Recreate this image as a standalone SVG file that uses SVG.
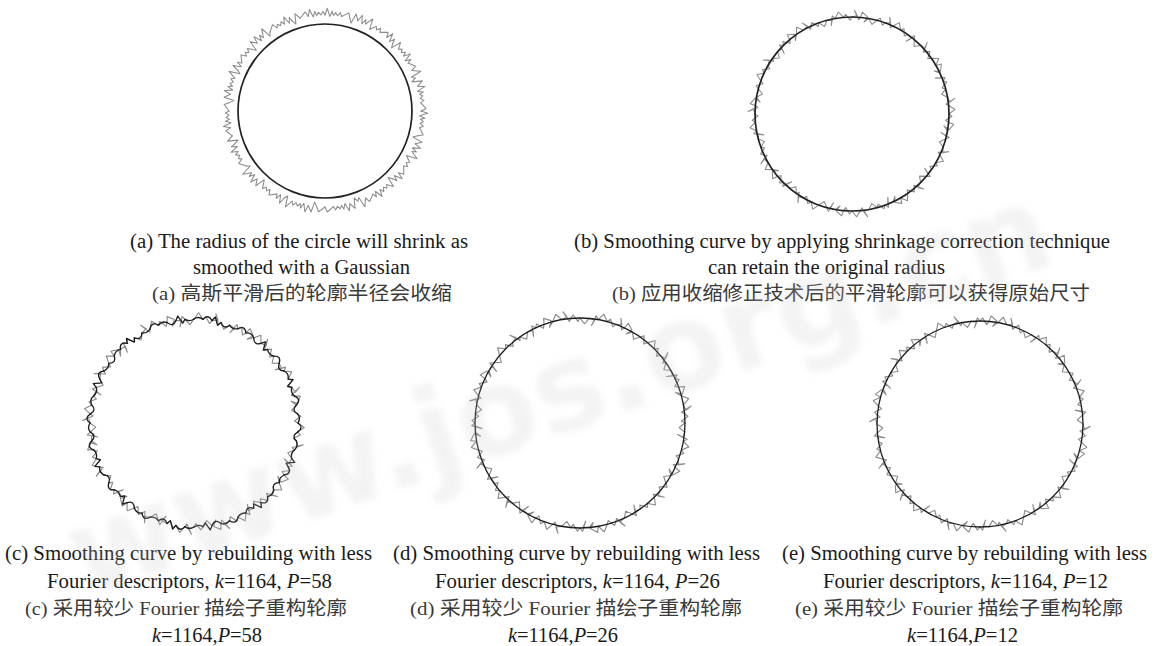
<svg xmlns="http://www.w3.org/2000/svg" xmlns:xlink="http://www.w3.org/1999/xlink" width="1158" height="646" viewBox="0 0 1158 646">
<style>
.g{fill:none;stroke:#8c8c8c;stroke-width:1.1;stroke-linejoin:round;stroke-linecap:round}
.k{fill:none;stroke:#1e1e1e;stroke-width:1.3;stroke-linejoin:round;stroke-linecap:round}
.kc{fill:none;stroke:#222;stroke-width:1.7}
.t{font-family:"Liberation Serif","Times New Roman",serif;font-size:20.8px;fill:#1a1a1a}
.c{font-family:"Liberation Serif","Noto Sans CJK SC",serif;font-size:19.5px;fill:#3a3a3a}
</style>
<defs>
<filter id="blur" x="-10%" y="-10%" width="120%" height="120%"><feGaussianBlur stdDeviation="3"/></filter>
<path id="s1" d="M100,0 L107,2.4 L98.5,5 L104,7.5 L99.62,8.72"/>
<path id="s2" d="M100,0 L105,6.8 L99.62,8.72"/>
<path id="s3" d="M100,0 L95.5,2.5 L106,5.2 L99.62,8.72"/>
<path id="s4" d="M100,0 L103,2.2 L100,4.4 L103.5,7 L99.62,8.72"/>
<path id="s5" d="M100,0 L108,4.6 L96.5,6.2 L99.62,8.72"/>
<path id="l1" d="M100,0 L101.5,5.5 L107,2.5 L97,6.8 L99.62,8.72"/>
<path id="l2" d="M100,0 L99,5.5 L93.5,2.8 L103,6.5 L99.62,8.72"/>
<path id="l3" d="M100,0 L106,4.4 L99.62,8.72"/>
<path id="l4" d="M100,0 L94.5,4.3 L99.62,8.72"/>
<path id="l5" d="M100,0 L103,2.5 L99.9,4.36 L96.5,6.5 L99.62,8.72"/>
<path id="l6" d="M100,0 L105.5,1.5 L101,7.5 L95.5,4 L99.62,8.72"/>
<path id="w1" d="M100,0 Q106,4.4 99.62,8.72"/>
<path id="w2" d="M100,0 Q94,4.4 99.62,8.72"/>
<path id="w3" d="M100,0 Q103,4.4 99.62,8.72"/>
<path id="w4" d="M100,0 Q97,4.4 99.62,8.72"/>
<path id="w5" d="M100,0 L104,2.5 L96.5,6 L99.62,8.72"/>
<g id="SA"><use href="#s1"/><use href="#s4" transform="rotate(5)"/><use href="#s2" transform="rotate(10)"/><use href="#s3" transform="rotate(15)"/><use href="#s1" transform="rotate(20)"/><use href="#s5" transform="rotate(25)"/><use href="#s4" transform="rotate(30)"/><use href="#s2" transform="rotate(35)"/><use href="#s1" transform="rotate(40)"/><use href="#s3" transform="rotate(45)"/><use href="#s4" transform="rotate(50)"/><use href="#s1" transform="rotate(55)"/><use href="#s2" transform="rotate(60)"/><use href="#s5" transform="rotate(65)"/><use href="#s3" transform="rotate(70)"/><use href="#s1" transform="rotate(75)"/><use href="#s4" transform="rotate(80)"/><use href="#s2" transform="rotate(85)"/></g>
<g id="SB"><use href="#s2"/><use href="#s3" transform="rotate(5)"/><use href="#s1" transform="rotate(10)"/><use href="#s4" transform="rotate(15)"/><use href="#s5" transform="rotate(20)"/><use href="#s1" transform="rotate(25)"/><use href="#s2" transform="rotate(30)"/><use href="#s4" transform="rotate(35)"/><use href="#s3" transform="rotate(40)"/><use href="#s1" transform="rotate(45)"/><use href="#s5" transform="rotate(50)"/><use href="#s2" transform="rotate(55)"/><use href="#s4" transform="rotate(60)"/><use href="#s1" transform="rotate(65)"/><use href="#s3" transform="rotate(70)"/><use href="#s2" transform="rotate(75)"/><use href="#s1" transform="rotate(80)"/><use href="#s4" transform="rotate(85)"/></g>
<g id="LA"><use href="#l1"/><use href="#l3" transform="rotate(5)"/><use href="#l5" transform="rotate(10)"/><use href="#l2" transform="rotate(15)"/><use href="#l4" transform="rotate(20)"/><use href="#l1" transform="rotate(25)"/><use href="#l5" transform="rotate(30)"/><use href="#l3" transform="rotate(35)"/><use href="#l6" transform="rotate(40)"/><use href="#l2" transform="rotate(45)"/><use href="#l5" transform="rotate(50)"/><use href="#l4" transform="rotate(55)"/><use href="#l1" transform="rotate(60)"/><use href="#l3" transform="rotate(65)"/><use href="#l5" transform="rotate(70)"/><use href="#l6" transform="rotate(75)"/><use href="#l2" transform="rotate(80)"/><use href="#l4" transform="rotate(85)"/></g>
<g id="LB"><use href="#l3"/><use href="#l5" transform="rotate(5)"/><use href="#l1" transform="rotate(10)"/><use href="#l4" transform="rotate(15)"/><use href="#l2" transform="rotate(20)"/><use href="#l5" transform="rotate(25)"/><use href="#l6" transform="rotate(30)"/><use href="#l3" transform="rotate(35)"/><use href="#l1" transform="rotate(40)"/><use href="#l5" transform="rotate(45)"/><use href="#l4" transform="rotate(50)"/><use href="#l2" transform="rotate(55)"/><use href="#l3" transform="rotate(60)"/><use href="#l5" transform="rotate(65)"/><use href="#l1" transform="rotate(70)"/><use href="#l6" transform="rotate(75)"/><use href="#l4" transform="rotate(80)"/><use href="#l5" transform="rotate(85)"/></g>
<g id="WA"><use href="#w1"/><use href="#w2" transform="rotate(5)"/><use href="#w3" transform="rotate(10)"/><use href="#w4" transform="rotate(15)"/><use href="#w5" transform="rotate(20)"/><use href="#w1" transform="rotate(25)"/><use href="#w4" transform="rotate(30)"/><use href="#w2" transform="rotate(35)"/><use href="#w3" transform="rotate(40)"/><use href="#w1" transform="rotate(45)"/><use href="#w5" transform="rotate(50)"/><use href="#w2" transform="rotate(55)"/><use href="#w4" transform="rotate(60)"/><use href="#w1" transform="rotate(65)"/><use href="#w3" transform="rotate(70)"/><use href="#w2" transform="rotate(75)"/><use href="#w5" transform="rotate(80)"/><use href="#w4" transform="rotate(85)"/></g>
<g id="WB"><use href="#w3"/><use href="#w1" transform="rotate(5)"/><use href="#w5" transform="rotate(10)"/><use href="#w2" transform="rotate(15)"/><use href="#w4" transform="rotate(20)"/><use href="#w1" transform="rotate(25)"/><use href="#w3" transform="rotate(30)"/><use href="#w2" transform="rotate(35)"/><use href="#w5" transform="rotate(40)"/><use href="#w4" transform="rotate(45)"/><use href="#w1" transform="rotate(50)"/><use href="#w2" transform="rotate(55)"/><use href="#w3" transform="rotate(60)"/><use href="#w5" transform="rotate(65)"/><use href="#w4" transform="rotate(70)"/><use href="#w1" transform="rotate(75)"/><use href="#w2" transform="rotate(80)"/><use href="#w3" transform="rotate(85)"/></g>
</defs>
<rect width="1158" height="646" fill="#fff"/>

<g id="fig-a">
<g class="g" transform="translate(325,111) scale(0.96)"><use href="#SA"/><use href="#SB" transform="rotate(90)"/><use href="#SB" transform="rotate(180)"/><use href="#SA" transform="rotate(270)"/></g>
<circle class="kc" cx="325" cy="111" r="87"/>
</g>

<g id="fig-b">
<g class="g" transform="translate(852,114) scale(0.97) rotate(20)"><use href="#LA"/><use href="#LB" transform="rotate(90)"/><use href="#LB" transform="rotate(180)"/><use href="#LA" transform="rotate(270)"/></g>
<circle class="kc" cx="852" cy="114" r="97"/>
</g>

<g id="fig-c">
<g class="g" transform="translate(194,423) scale(1.04)"><use href="#LB"/><use href="#LA" transform="rotate(90)"/><use href="#LA" transform="rotate(180)"/><use href="#LB" transform="rotate(270)"/></g>
<g class="k" transform="translate(194,423) scale(1.04)"><use href="#WA"/><use href="#WB" transform="rotate(90)"/><use href="#WA" transform="rotate(180)"/><use href="#WB" transform="rotate(270)"/></g>
</g>

<g id="fig-d">
<g class="g" transform="translate(580,423) scale(1.05) rotate(40)"><use href="#LA"/><use href="#LA" transform="rotate(90)"/><use href="#LB" transform="rotate(180)"/><use href="#LB" transform="rotate(270)"/></g>
<circle class="k" cx="580" cy="423" r="105"/>
</g>

<g id="fig-e">
<g class="g" transform="translate(980,424) scale(1.03) rotate(65)"><use href="#LB"/><use href="#LA" transform="rotate(90)"/><use href="#LB" transform="rotate(180)"/><use href="#LA" transform="rotate(270)"/></g>
<circle class="k" cx="980" cy="424" r="103"/>
</g>

<g id="captions">
<text class="t" x="130" y="248" textLength="338" lengthAdjust="spacingAndGlyphs">(a) The radius of the circle will shrink as</text>
<text class="t" x="193" y="274" textLength="217" lengthAdjust="spacingAndGlyphs">smoothed with a Gaussian</text>
<text class="c" x="152" y="300" textLength="300" lengthAdjust="spacingAndGlyphs">(a) 高斯平滑后的轮廓半径会收缩</text>

<text class="t" x="574" y="248" textLength="536" lengthAdjust="spacingAndGlyphs">(b) Smoothing curve by applying shrinkage correction technique</text>
<text class="t" x="708" y="274" textLength="237" lengthAdjust="spacingAndGlyphs">can retain the original radius</text>
<text class="c" x="612" y="300" textLength="478" lengthAdjust="spacingAndGlyphs">(b) 应用收缩修正技术后的平滑轮廓可以获得原始尺寸</text>

<text class="t" x="5" y="560" textLength="367" lengthAdjust="spacingAndGlyphs">(c) Smoothing curve by rebuilding with less</text>
<text class="t" x="47" y="588" textLength="285" lengthAdjust="spacingAndGlyphs">Fourier descriptors, <tspan font-style="italic">k</tspan>=1164, <tspan font-style="italic">P</tspan>=58</text>
<text class="c" x="25" y="615" textLength="322" lengthAdjust="spacingAndGlyphs">(c) 采用较少 Fourier 描绘子重构轮廓</text>
<text class="t" x="152" y="642" textLength="110" lengthAdjust="spacingAndGlyphs"><tspan font-style="italic">k</tspan>=1164,<tspan font-style="italic">P</tspan>=58</text>

<text class="t" x="393" y="560" textLength="367" lengthAdjust="spacingAndGlyphs">(d) Smoothing curve by rebuilding with less</text>
<text class="t" x="435" y="588" textLength="285" lengthAdjust="spacingAndGlyphs">Fourier descriptors, <tspan font-style="italic">k</tspan>=1164, <tspan font-style="italic">P</tspan>=26</text>
<text class="c" x="410" y="615" textLength="332" lengthAdjust="spacingAndGlyphs">(d) 采用较少 Fourier 描绘子重构轮廓</text>
<text class="t" x="508" y="642" textLength="110" lengthAdjust="spacingAndGlyphs"><tspan font-style="italic">k</tspan>=1164,<tspan font-style="italic">P</tspan>=26</text>

<text class="t" x="782" y="560" textLength="365" lengthAdjust="spacingAndGlyphs">(e) Smoothing curve by rebuilding with less</text>
<text class="t" x="823" y="588" textLength="285" lengthAdjust="spacingAndGlyphs">Fourier descriptors, <tspan font-style="italic">k</tspan>=1164, <tspan font-style="italic">P</tspan>=12</text>
<text class="c" x="795" y="615" textLength="328" lengthAdjust="spacingAndGlyphs">(e) 采用较少 Fourier 描绘子重构轮廓</text>
<text class="t" x="907" y="642" textLength="111" lengthAdjust="spacingAndGlyphs"><tspan font-style="italic">k</tspan>=1164,<tspan font-style="italic">P</tspan>=12</text>
</g>

<g id="watermark" opacity="0.2" filter="url(#blur)">
<text transform="translate(85,598) rotate(-19)" font-family="DejaVu Sans" font-weight="bold" font-size="122" fill="#c8c8c8" textLength="1030" lengthAdjust="spacingAndGlyphs">www.jos.org.cn</text>
</g>
</svg>
